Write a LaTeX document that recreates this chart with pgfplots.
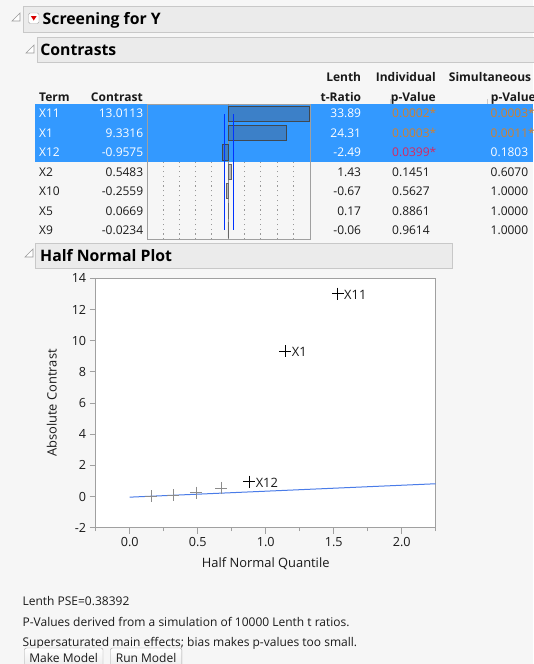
\documentclass[border=0pt]{standalone}
\usepackage{fontspec}
\setmainfont{Open Sans}
\newfontfamily\hfont{Open Sans}
\usepackage{pgfplots}
\pgfplotsset{compat=1.18}
\definecolor{bg}{HTML}{F6F6F6}
\definecolor{hdr}{HTML}{EBEBEB}
\definecolor{hdrline}{HTML}{C8C8C8}
\definecolor{selblue}{HTML}{3399FF}
\definecolor{barblue}{HTML}{3C80C8}
\definecolor{barline}{HTML}{404850}
\definecolor{pvorange}{HTML}{D08030}
\definecolor{pvred}{HTML}{D8285E}
\definecolor{fitblue}{HTML}{4A7CE8}
\definecolor{txt}{HTML}{1A1A1A}
\definecolor{axgray}{HTML}{A0A0A0}
\definecolor{ptgray}{HTML}{8C8C8C}
\tikzset{t/.style={inner sep=0pt, text=txt, font=\fontsize{12}{14}\selectfont},
  tb/.style={inner sep=0pt, text=txt, font=\hfont\fontsize{12}{14}\selectfont\bfseries},
  hd/.style={inner sep=0pt, text=black, font=\hfont\fontsize{15.8}{17}\selectfont\bfseries}}
\begin{document}
\begin{tikzpicture}[x=1pt,y=1pt]
\useasboundingbox (0,0) rectangle (533,-664);
\fill[bg] (0,0) rectangle (533,-664);
% ---- headers
\draw[hdrline, fill=hdr] (23,-6) rectangle (545,-32.5);
\draw[hdrline, fill=hdr] (36.7,-36.7) rectangle (545,-62.2);
\draw[hdrline, fill=hdr] (35,-243.3) rectangle (451.7,-268.3);
\foreach \xa/\ya in {12/21, 26/53, 25/257}{
  \draw[gray!80, fill=white, line width=0.6pt] (\xa,-\ya) -- (\xa+8,-\ya) -- (\xa+8,-\ya+8) -- cycle;
}
\draw[gray!70, fill=white, rounded corners=1.5pt] (28.5,-13) rectangle (39,-23.5);
\fill[red!85!black] (30.8,-16) -- (36.7,-16) -- (33.75,-20.5) -- cycle;
\node[hd, anchor=base west] at (42.5,-24.8) {Screening for Y};
\node[hd, anchor=base west] at (40.1,-55.1) {Contrasts};
\node[hd, anchor=base west] at (40,-261.1) {Half Normal Plot};
% ---- table header
\node[tb, anchor=base east] at (361.3,-81.7) {Lenth};
\node[tb, anchor=base east] at (436,-81.7) {Individual};
\node[tb, anchor=base west] at (448.7,-81.7) {Simultaneous};
\node[tb, anchor=base west] at (39,-101.1) {Term};
\node[tb, anchor=base east] at (143,-101.1) {Contrast};
\node[tb, anchor=base east] at (361.3,-101.1) {t-Ratio};
\node[tb, anchor=base east] at (436,-101.1) {p-Value};
\node[tb, anchor=base east] at (536,-101.1) {p-Value};
\draw[hdrline] (390,-99) -- (390,-104) (486.7,-99) -- (486.7,-104);
% ---- selection highlight
\fill[selblue] (35,-104) rectangle (533,-161.8);
% ---- table rows
\foreach \n/\c/\tr/\p/\s/\i/\tc/\pc/\sc in {
  X11/13.0113/33.89/0.0002*/0.0003*/0/white/pvorange/pvorange,
  X1/9.3316/24.31/0.0003*/0.0011*/1/white/pvorange/pvorange,
  X12/-0.9575/-2.49/0.0399*/0.1803/2/white/pvred/white,
  X2/0.5483/1.43/0.1451/0.6070/3/txt/txt/txt,
  X10/-0.2559/-0.67/0.5627/1.0000/4/txt/txt/txt,
  X5/0.0669/0.17/0.8861/1.0000/5/txt/txt/txt,
  X9/-0.0234/-0.06/0.9614/1.0000/6/txt/txt/txt}{
  \pgfmathsetmacro\yy{-(113.6+19.45*\i)-4.3}
  \node[t, anchor=base west, text=\tc] at (39,\yy) {\n};
  \node[t, anchor=base east, text=\tc] at (143.4,\yy) {\c};
  \node[t, anchor=base east, text=\tc] at (361.3,\yy) {\tr};
  \node[t, anchor=base west, text=\pc] at (392,\yy) {\p};
  \node[t, anchor=base west, text=\sc] at (490.5,\yy) {\s};
}
% ---- contrast bar chart
\begin{axis}[at={(147.3pt,-239.4pt)}, anchor=south west, scale only axis,
  width=162.7pt, height=135.4pt, xmin=-12.9, xmax=13.1, ymin=-0.5, ymax=6.5,
  axis line style={draw=axgray}, ticks=none, clip=false]
  \foreach \v in {-10.4,-7.8,-5.2,-2.6,2.6,5.2,7.8,10.4}{
    \edef\temp{\noexpand\addplot[gray!80, line width=0.6pt, dash pattern=on 1.2pt off 3.6pt] coordinates {(\v,-0.5) (\v,3.5)};}
    \temp
  }
  \addplot[gray!90, line width=0.7pt] coordinates {(0,-0.5) (0,6.5)};
  \addplot[xbar, bar width=0.78, bar shift=0pt, fill=barblue, draw=barline, line width=0.8pt]
    coordinates {(13.0113,6) (9.3316,5) (-0.9575,4)};
  \addplot[xbar, bar width=0.78, bar shift=0pt, fill=gray!55, draw=gray!80!black, line width=0.6pt]
    coordinates {(0.5483,3) (-0.2559,2) (0.0669,1) (-0.0234,0)};
  \addplot[blue!80!cyan, line width=0.8pt] coordinates {(-0.5,0) (-0.5,6)};
  \addplot[blue!80!cyan, line width=0.8pt] coordinates {(0.8,0) (0.8,6)};
\end{axis}
% ---- half normal plot
\begin{axis}[at={(95.7pt,-527.7pt)}, anchor=south west, scale only axis,
  width=340pt, height=249.4pt, xmin=-0.25, xmax=2.25, ymin=-2, ymax=14,
  axis background/.style={fill=white},
  axis line style={draw=axgray, line width=0.8pt},
  xtick={0,0.5,1,1.5,2}, xticklabels={0.0,0.5,1.0,1.5,2.0},
  minor xtick={-0.25,0.25,0.75,1.25,1.75,2.25},
  ytick={-2,0,2,4,6,8,10,12,14},
  tick align=outside, xtick pos=bottom, ytick pos=left,
  major tick length=6pt, minor tick length=3.5pt,
  tick style={draw=axgray, line width=0.8pt},
  ticklabel style={font=\fontsize{12.6}{14}\selectfont, text=txt},
  /pgf/number format/assume math mode=true,
  xlabel={Half Normal Quantile}, ylabel={Absolute Contrast},
  label style={font=\fontsize{12.9}{14}\selectfont, text=txt},
  xlabel style={at={(axis description cs:0.5,-0.1456)}, anchor=center},
  ylabel style={at={(axis description cs:-0.1294,0.5)}, anchor=center},
  clip=false]
  \addplot[fitblue, line width=1pt] coordinates {(0,-0.04) (2.25,0.82)};
  \addplot[only marks, mark=+, mark size=6pt, ptgray, line width=0.8pt]
    coordinates {(0.158,0.0234) (0.318,0.0669) (0.487,0.2559) (0.672,0.5483)};
  \addplot[only marks, mark=+, mark size=6pt, black, line width=0.8pt,
    point meta=explicit symbolic, nodes near coords,
    nodes near coords style={anchor=west, inner sep=0pt, xshift=6pt, yshift=-1pt,
      font=\fontsize{12.9}{14}\selectfont, text=txt}]
    table[meta=lab] {
      x y lab
      1.530 13.0113 X11
      1.145 9.3316 X1
      0.880 0.9575 X12
    };
\end{axis}
% ---- footer
\node[t, anchor=base west] at (22.4,-605) {Lenth PSE=0.38392};
\node[t, anchor=base west] at (22.4,-626.1) {P-Values derived from a simulation of 10000 Lenth t ratios.};
\node[t, anchor=base west] at (22.4,-646.4) {Supersaturated main effects; bias makes p-values too small.};
\draw[gray!75, top color=white, bottom color=gray!15, rounded corners=2pt] (24.5,-648) rectangle (103,-667);
\draw[gray!75, top color=white, bottom color=gray!15, rounded corners=2pt] (110.5,-648) rectangle (181.8,-667);
\node[t] at (63.7,-657.5) {Make Model};
\node[t] at (146.1,-657.5) {Run Model};
\end{tikzpicture}
\end{document}
